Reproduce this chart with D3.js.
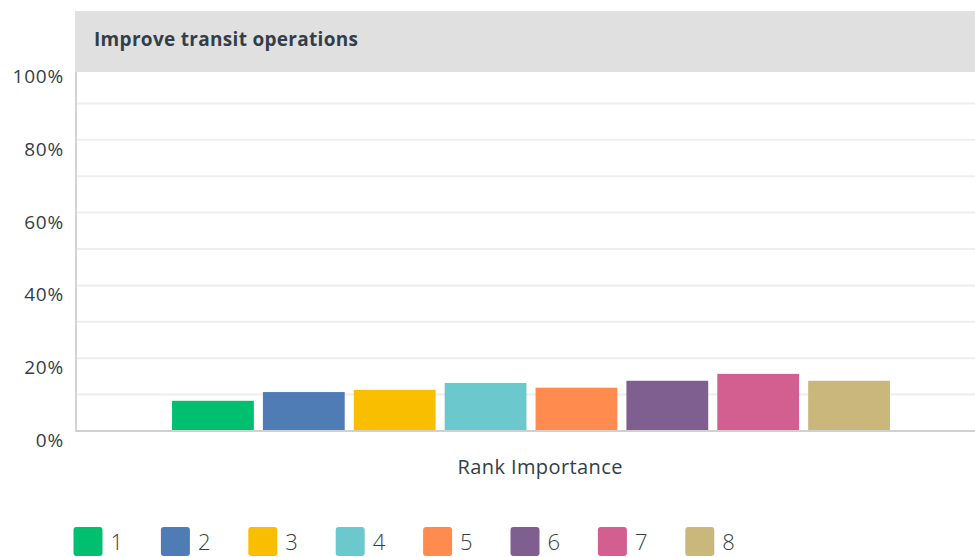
<!DOCTYPE html>
<html>
<head>
<meta charset="utf-8">
<script src="https://cdn.jsdelivr.net/npm/d3@7"></script>
<style>
  html, body { margin: 0; padding: 0; background: #fff; }
  svg { display: block; }
  text { font-family: "Open Sans", Roboto, sans-serif; }
</style>
</head>
<body>
<svg id="chart" width="975" height="557"></svg>
<script>
// ---- data ----
const title = "Improve transit operations";
const categories = ["1", "2", "3", "4", "5", "6", "7", "8"];
const values = [0.083, 0.107, 0.113, 0.132, 0.119, 0.138, 0.157, 0.138];
const colors = ["#00BF6F", "#507CB6", "#F9BE00", "#6BC8CD", "#FF8B4F", "#7F5F90", "#D25F90", "#C9B77C"];
const yTicks = [0, 0.2, 0.4, 0.6, 0.8, 1.0];
const gridTicks = [0.1, 0.2, 0.3, 0.4, 0.5, 0.6, 0.7, 0.8, 0.9];
const xAxisTitle = "Rank Importance";

const svg = d3.select("#chart");
const plotLeft = 76, plotRight = 975;
const y = d3.scaleLinear().domain([0, 1]).range([431, 67]);
const x = d3.scaleBand().domain(categories).range([167.5, 894.5]).paddingInner(0.1).paddingOuter(0.05);
const textColor = "#333e48";

// gridlines
svg.append("g").selectAll("line").data(gridTicks).join("line")
  .attr("x1", plotLeft).attr("x2", plotRight)
  .attr("y1", d => y(d)).attr("y2", d => y(d))
  .attr("stroke", "#eeeeee").attr("stroke-width", 2);

// bars
svg.append("g").selectAll("rect").data(values).join("rect")
  .attr("x", (d, i) => x(categories[i]))
  .attr("width", x.bandwidth())
  .attr("y", d => y(d))
  .attr("height", d => y(0) - y(d))
  .attr("fill", (d, i) => colors[i]);

// axes lines
svg.append("line").attr("x1", plotLeft).attr("x2", plotLeft)
  .attr("y1", 72).attr("y2", y(0) + 1)
  .attr("stroke", "#d4d4d4").attr("stroke-width", 2);
svg.append("line").attr("x1", plotLeft).attr("x2", plotRight)
  .attr("y1", y(0)).attr("y2", y(0))
  .attr("stroke", "#d0d0d0").attr("stroke-width", 2);

// header band
svg.append("rect").attr("x", 75).attr("y", 11).attr("width", 900).attr("height", 61).attr("fill", "#e0e0e0");
svg.append("text").attr("x", 94).attr("y", 46).text(title)
  .attr("font-size", 19).attr("font-weight", 700).attr("fill", textColor)
  .attr("textLength", 264).attr("lengthAdjust", "spacing");

// y tick labels
svg.append("g").selectAll("text").data(yTicks).join("text")
  .attr("x", 64).attr("y", d => y(d) + 16)
  .attr("text-anchor", "end")
  .attr("font-size", 19).attr("fill", textColor)
  .attr("letter-spacing", 0.8)
  .text(d => d3.format(".0%")(d));

// x axis title
svg.append("text").attr("x", 540).attr("y", 474).attr("text-anchor", "middle")
  .attr("font-size", 20).attr("fill", textColor)
  .attr("textLength", 165).attr("lengthAdjust", "spacing")
  .text(xAxisTitle);

// legend
const legend = svg.append("g").selectAll("g").data(categories).join("g")
  .attr("transform", (d, i) => `translate(${73.5 + i * 87.4},527)`);
legend.append("rect").attr("width", 29).attr("height", 29).attr("rx", 3).attr("fill", (d, i) => colors[i]);
legend.append("text").attr("x", 37).attr("y", 23).attr("font-size", 22).attr("font-weight", 300)
  .attr("fill", textColor).text(d => d);
</script>
</body>
</html>
